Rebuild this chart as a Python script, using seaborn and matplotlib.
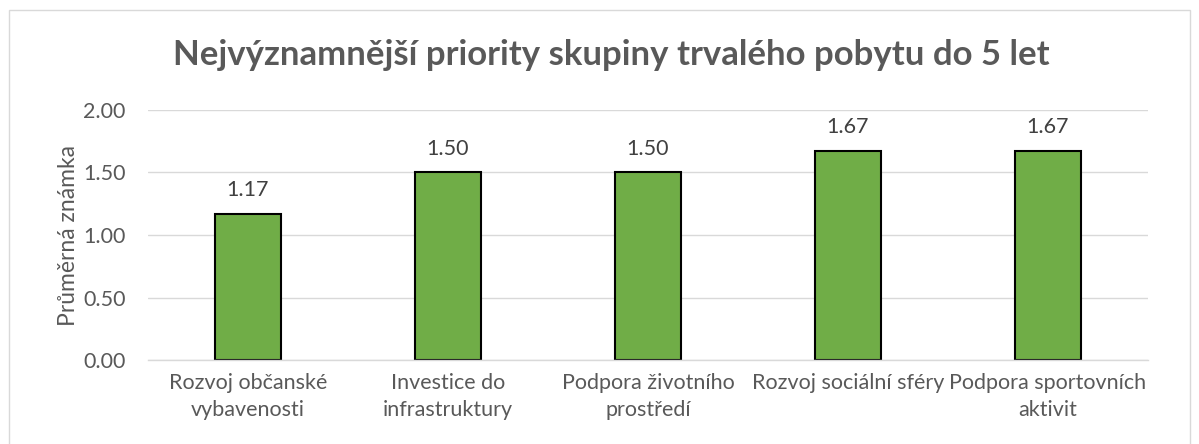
import matplotlib
matplotlib.use("Agg")
import matplotlib.pyplot as plt
import seaborn as sns
import pandas as pd
from matplotlib.patches import Rectangle

categories = ["Rozvoj občanské\nvybavenosti", "Investice do\ninfrastruktury",
              "Podpora životního\nprostředí", "Rozvoj sociální sféry",
              "Podpora sportovních\naktivit"]
values = [1.17, 1.50, 1.50, 1.67, 1.67]
yticks = [0.0, 0.5, 1.0, 1.5, 2.0]

sns.set_theme(style="white")
plt.rcParams['font.family'] = ['Lato', 'DejaVu Sans']

df = pd.DataFrame({"cat": categories, "val": values})

fig = plt.figure(figsize=(11.99, 4.44), dpi=100)
ax = fig.add_axes([148/1199, 1 - 360/444, 1000/1199, 250/444])

sns.barplot(data=df, x="cat", y="val", ax=ax, color="#70AD47", width=0.33,
            edgecolor="black", linewidth=1.5, saturation=1)

ax.set_ylim(0, 2.0)
ax.set_yticks(yticks)
ax.set_yticklabels([f"{v:.2f}" for v in yticks], color="#595959", fontsize=15.5)
ax.set_xlim(-0.5, 4.5)
ax.tick_params(axis='x', colors="#595959", labelsize=15.5, length=0, pad=9)
ax.tick_params(axis='y', length=0, pad=16)
for lbl in ax.get_xticklabels():
    lbl.set_color("#595959")
    lbl.set_linespacing(1.45)
ax.set_xlabel("")
ax.set_ylabel("Průměrná známka", color="#595959", fontsize=16.5, labelpad=3)
ax.grid(axis='y', color="#D9D9D9", linewidth=1)
ax.set_axisbelow(True)
for s in ["top", "right", "left"]:
    ax.spines[s].set_visible(False)
ax.spines["bottom"].set_color("#D9D9D9")
ax.spines["bottom"].set_linewidth(1)

for c in ax.containers:
    ax.bar_label(c, labels=[f"{v:.2f}" for v in values], padding=10,
                 color="#404040", fontsize=15.5)

fig.text(0.51, 1 - 55/444, "Nejvýznamnější priority skupiny trvalého pobytu do 5 let",
         ha="center", va="center", fontsize=25, fontweight="bold", color="#595959")

fig.patches.append(Rectangle((9/1199, -0.01), 1181/1199, 1 - 10/444 + 0.01,
                             transform=fig.transFigure, fill=False,
                             edgecolor="#D9D9D9", linewidth=1))

fig.savefig("out.png", dpi=100)
